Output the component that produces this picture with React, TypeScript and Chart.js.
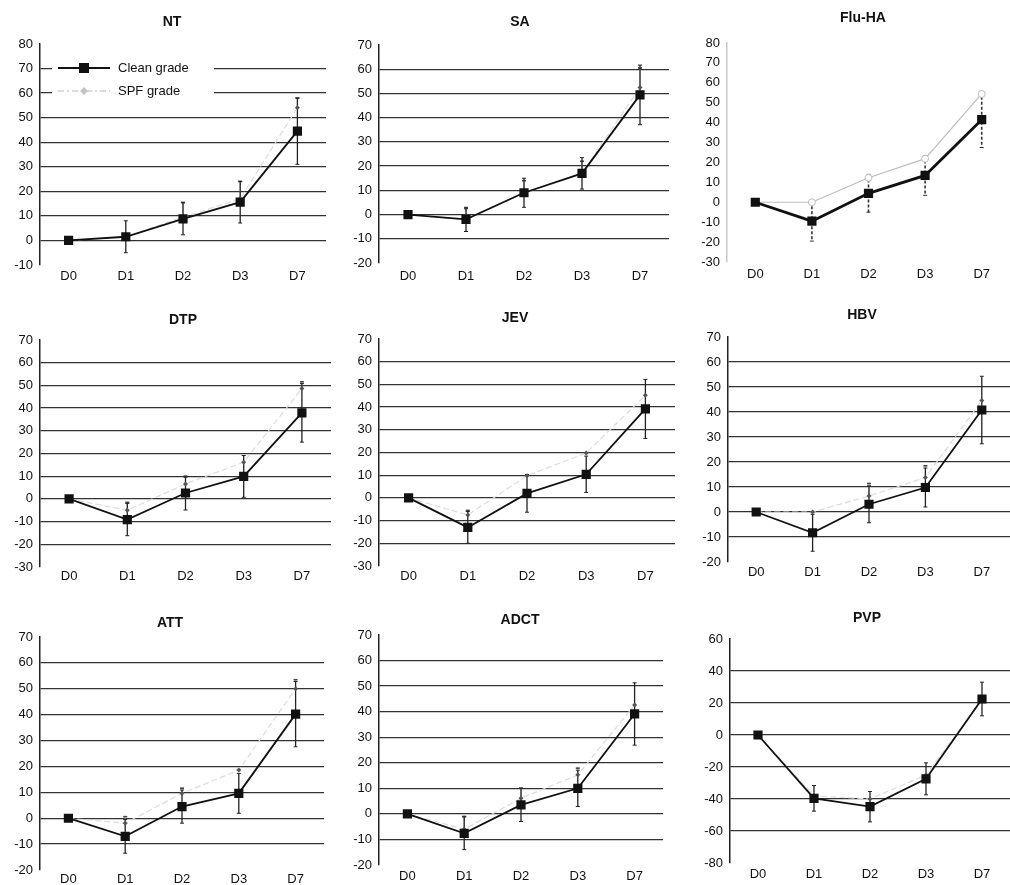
import React, { useEffect, useRef } from 'react';
import { Chart, registerables } from 'chart.js';

Chart.register(...registerables);

// ---------- data ----------
const labels = ['D0', 'D1', 'D2', 'D3', 'D7'];

const ntClean = [0, 1.5, 8.8, 15.6, 44.5];
const ntCleanSd = [0, 6.5, 6.5, 8.5, 13.5];
const ntSpf = [0, 1.5, 9.5, 17, 54];
const ntSpfSd = [0, 0, 6, 7, 4];

const saClean = [0, -2, 9, 17, 49.4];
const saCleanSd = [0, 5, 6, 6.5, 12.3];
const saSpf = [0, -2, 9, 17, 52.5];
const saSpfSd = [0, 4.5, 5, 5, 8];

const fluClean = [0, -9.5, 4.5, 13.5, 41.5];
const fluCleanSd = [0, 10, 9.5, 10, 14];
const fluSpf = [0, 0, 12.3, 21.9, 54.4];
const fluSpfSd = [0, 0, 0, 0, 0];

const dtpClean = [0, -9.1, 2.6, 9.9, 37.9];
const dtpCleanSd = [0, 7.1, 7.5, 9.2, 12.9];
const dtpSpf = [0, -5, 6.6, 16.2, 48.6];
const dtpSpfSd = [0, 3.5, 3, 0, 3];

const jevClean = [0, -13, 2, 10.4, 39.2];
const jevCleanSd = [0, 7, 8.3, 8, 13];
const jevSpf = [0, -7.5, 9.8, 19.8, 45.2];
const jevSpfSd = [0, 2, 0, 0, 0];

const hbvClean = [0, -8.3, 3.1, 9.8, 40.8];
const hbvCleanSd = [0, 7.4, 7.4, 7.8, 13.5];
const hbvSpf = [0, 0, 6.4, 13.8, 44.6];
const hbvSpfSd = [0, 0, 5, 4.7, 0];

const attClean = [0, -7, 4.5, 9.6, 40.2];
const attCleanSd = [0, 6.5, 6.4, 7.7, 12.6];
const attSpf = [0, -1.9, 9.6, 18.6, 50];
const attSpfSd = [0, 2.5, 2, 0, 3.5];

const adctClean = [0, -7.6, 3.5, 10, 39.1];
const adctCleanSd = [0, 6.4, 6.5, 7.1, 12.2];
const adctSpf = [0, -6, 6.1, 15.3, 42.6];
const adctSpfSd = [0, 5, 4, 2.6, 0];

const pvpClean = [0, -39.6, -44.8, -27.4, 22.5];
const pvpCleanSd = [0, 8, 9.5, 10, 10.5];
const pvpSpf = [0, -38, -40, -25, 22];
const pvpSpfSd = [0, 0, 0, 0, 0];

// ---------- panel layout ----------
type Panel = {
  title: string;
  clean: number[];
  cleanSd: number[];
  spf: number[];
  spfSd: number[];
  min: number;
  max: number;
  step: number;
  box: [number, number, number, number];
  plot: [number, number, number, number];
  titleAt: [number, number];
  xPad: number;
  grid: boolean;
  legend: boolean;
  flu: boolean;
};

const panels: Panel[] = [
  { title: 'NT', clean: ntClean, cleanSd: ntCleanSd, spf: ntSpf, spfSd: ntSpfSd, min: -10, max: 80, step: 10,
    box: [0, 0, 340, 295], plot: [40, 326, 44, 265], titleAt: [172, 22], xPad: 5, grid: true, legend: true, flu: false },
  { title: 'SA', clean: saClean, cleanSd: saCleanSd, spf: saSpf, spfSd: saSpfSd, min: -20, max: 70, step: 10,
    box: [340, 0, 340, 295], plot: [379, 669, 45, 263], titleAt: [520, 22], xPad: 7, grid: true, legend: false, flu: false },
  { title: 'Flu-HA', clean: fluClean, cleanSd: fluCleanSd, spf: fluSpf, spfSd: fluSpfSd, min: -30, max: 80, step: 10,
    box: [680, 0, 330, 295], plot: [727, 1010, 43, 262], titleAt: [863, 18], xPad: 6, grid: false, legend: false, flu: true },
  { title: 'DTP', clean: dtpClean, cleanSd: dtpCleanSd, spf: dtpSpf, spfSd: dtpSpfSd, min: -30, max: 70, step: 10,
    box: [0, 295, 340, 295], plot: [40, 331, 340, 567], titleAt: [183, 320], xPad: 3, grid: true, legend: false, flu: false },
  { title: 'JEV', clean: jevClean, cleanSd: jevCleanSd, spf: jevSpf, spfSd: jevSpfSd, min: -30, max: 70, step: 10,
    box: [340, 295, 340, 295], plot: [379, 675, 339, 566], titleAt: [515, 318], xPad: 4, grid: true, legend: false, flu: false },
  { title: 'HBV', clean: hbvClean, cleanSd: hbvCleanSd, spf: hbvSpf, spfSd: hbvSpfSd, min: -20, max: 70, step: 10,
    box: [680, 295, 330, 295], plot: [728, 1010, 337, 562], titleAt: [862, 315], xPad: 4, grid: true, legend: false, flu: false },
  { title: 'ATT', clean: attClean, cleanSd: attCleanSd, spf: attSpf, spfSd: attSpfSd, min: -20, max: 70, step: 10,
    box: [0, 595, 340, 290], plot: [40, 324, 637, 870], titleAt: [170, 623], xPad: 3, grid: true, legend: false, flu: false },
  { title: 'ADCT', clean: adctClean, cleanSd: adctCleanSd, spf: adctSpf, spfSd: adctSpfSd, min: -20, max: 70, step: 10,
    box: [340, 595, 340, 290], plot: [379, 663, 635, 865], titleAt: [520, 620], xPad: 5, grid: true, legend: false, flu: false },
  { title: 'PVP', clean: pvpClean, cleanSd: pvpCleanSd, spf: pvpSpf, spfSd: pvpSpfSd, min: -80, max: 60, step: 20,
    box: [680, 595, 330, 290], plot: [730, 1010, 639, 863], titleAt: [867, 618], xPad: 5, grid: true, legend: false, flu: false },
];

const FONT = '"Liberation Sans", Arial, sans-serif';
const TEXT = '#111111';

// ---------- plugins ----------
const errorBarsPlugin = {
  id: 'errorBars',
  beforeDatasetsDraw(chart: any) {
    const ctx = chart.ctx;
    const ys = chart.scales.y;
    const order = [1, 0];
    order.forEach((i) => {
      const ds: any = chart.data.datasets[i];
      const errs: number[] = ds.errors;
      if (!errs) return;
      const meta = chart.getDatasetMeta(i);
      meta.data.forEach((pt: any, j: number) => {
        const v = ds.data[j];
        const e = errs[j];
        if (!e) return;
        const x = pt.x;
        ctx.save();
        if (ds.errStyle === 'spf') {
          const y0 = ys.getPixelForValue(v);
          const y1 = ys.getPixelForValue(v + e);
          ctx.strokeStyle = '#b4b4b4';
          ctx.lineWidth = 1;
          ctx.beginPath();
          ctx.moveTo(x, y0);
          ctx.lineTo(x, y1);
          ctx.stroke();
          ctx.strokeStyle = '#444';
          ctx.lineWidth = 1.6;
          ctx.beginPath();
          ctx.moveTo(x - 2, y1);
          ctx.lineTo(x + 2, y1);
          ctx.stroke();
        } else {
          const yTop = ys.getPixelForValue(v + e);
          const yBot = ys.getPixelForValue(v - e);
          ctx.strokeStyle = ds.errStyle === 'dashed' ? '#333' : '#222';
          ctx.lineWidth = ds.errStyle === 'dashed' ? 1.6 : 1.3;
          if (ds.errStyle === 'dashed') ctx.setLineDash([3, 2]);
          ctx.beginPath();
          ctx.moveTo(x, yTop);
          ctx.lineTo(x, yBot);
          ctx.stroke();
          ctx.setLineDash([]);
          ctx.lineWidth = 1;
          ctx.beginPath();
          ctx.moveTo(x - 2, yTop);
          ctx.lineTo(x + 2, yTop);
          ctx.moveTo(x - 2, yBot);
          ctx.lineTo(x + 2, yBot);
          ctx.stroke();
        }
        ctx.restore();
      });
    });
  },
};

function makeTitlePlugin(p: Panel) {
  return {
    id: 'panelTitle',
    afterDraw(chart: any) {
      const ctx = chart.ctx;
      ctx.save();
      ctx.font = `bold 14px ${FONT}`;
      ctx.fillStyle = TEXT;
      ctx.textAlign = 'center';
      ctx.textBaseline = 'middle';
      ctx.fillText(p.title, p.titleAt[0] - p.box[0], p.titleAt[1] - p.box[1]);
      ctx.restore();
    },
  };
}

function makeLegendPlugin(p: Panel) {
  return {
    id: 'insideLegend',
    afterDatasetsDraw(chart: any) {
      if (!p.legend) return;
      const ctx = chart.ctx;
      const ox = p.box[0];
      const oy = p.box[1];
      const ds0: any = chart.data.datasets[0];
      const ds1: any = chart.data.datasets[1];
      ctx.save();
      ctx.fillStyle = '#ffffff';
      ctx.fillRect(52 - ox, 58 - oy, 162, 42);
      const y1 = 68 - oy;
      const y2 = 91 - oy;
      // clean grade
      ctx.strokeStyle = ds0.borderColor;
      ctx.lineWidth = 2;
      ctx.beginPath();
      ctx.moveTo(58 - ox, y1);
      ctx.lineTo(110 - ox, y1);
      ctx.stroke();
      ctx.fillStyle = ds0.backgroundColor;
      ctx.fillRect(84 - 5 - ox, y1 - 5, 10, 10);
      // spf grade
      ctx.strokeStyle = '#cfcfcf';
      ctx.lineWidth = 1.3;
      ctx.setLineDash([6, 3, 2, 3]);
      ctx.beginPath();
      ctx.moveTo(58 - ox, y2);
      ctx.lineTo(110 - ox, y2);
      ctx.stroke();
      ctx.setLineDash([]);
      ctx.fillStyle = '#c4c4c4';
      ctx.beginPath();
      ctx.moveTo(84 - ox, y2 - 4);
      ctx.lineTo(88 - ox, y2);
      ctx.lineTo(84 - ox, y2 + 4);
      ctx.lineTo(80 - ox, y2);
      ctx.closePath();
      ctx.fill();
      ctx.fillStyle = TEXT;
      ctx.font = `13px ${FONT}`;
      ctx.textAlign = 'left';
      ctx.textBaseline = 'middle';
      ctx.fillText(ds0.label, 118 - ox, y1);
      ctx.fillText(ds1.label, 118 - ox, y2);
      ctx.restore();
    },
  };
}

// ---------- chart panel ----------
function PanelChart({ p }: { p: Panel }) {
  const ref = useRef<HTMLCanvasElement | null>(null);
  useEffect(() => {
    if (!ref.current) return;
    const [cl, ct, cw, ch] = p.box;
    const [L, R, T, B] = p.plot;
    const tickFont = { family: FONT, size: 13 };
    const chart = new Chart(ref.current, {
      type: 'line',
      data: {
        labels,
        datasets: [
          {
            label: 'Clean grade',
            data: p.clean,
            borderColor: '#111111',
            backgroundColor: '#111111',
            borderWidth: p.flu ? 2.8 : 1.8,
            pointStyle: 'rect',
            pointRadius: 6.5,
            pointBorderWidth: 0,
            pointBackgroundColor: '#111111',
            tension: 0,
            errors: p.cleanSd,
            errStyle: p.flu ? 'dashed' : 'clean',
          } as any,
          {
            label: 'SPF grade',
            data: p.spf,
            borderColor: p.flu ? '#bdbdbd' : '#dcdcdc',
            backgroundColor: p.flu ? '#ffffff' : '#555555',
            borderWidth: 1.2,
            borderDash: p.flu ? [] : [6, 3],
            pointStyle: p.flu ? 'circle' : 'rectRot',
            pointRadius: p.flu ? 3.5 : 2.5,
            pointBorderWidth: p.flu ? 1 : 0,
            pointBorderColor: p.flu ? '#bdbdbd' : '#555555',
            pointBackgroundColor: p.flu ? '#ffffff' : '#555555',
            tension: 0,
            errors: p.spfSd,
            errStyle: 'spf',
          } as any,
        ],
      },
      options: {
        animation: false,
        responsive: false,
        maintainAspectRatio: false,
        events: [],
        layout: {
          autoPadding: false,
          padding: { left: 0, right: cl + cw - R, top: T - ct, bottom: 0 },
        },
        plugins: {
          legend: { display: false },
          tooltip: { enabled: false },
          title: { display: false },
        },
        scales: {
          x: {
            type: 'category',
            offset: true,
            grid: { display: false, drawTicks: false },
            border: { display: false },
            ticks: { padding: p.xPad - 1, font: tickFont, color: TEXT, maxRotation: 0 },
            afterFit: (s: any) => {
              s.height = ct + ch - B;
            },
          },
          y: {
            type: 'linear',
            min: p.min,
            max: p.max,
            ticks: { stepSize: p.step, padding: 7, font: tickFont, color: TEXT },
            grid: {
              drawTicks: false,
              lineWidth: 1.3,
              color: (c: any) =>
                !p.grid || c.tick.value === p.min || c.tick.value === p.max ? 'rgba(0,0,0,0)' : '#333333',
            },
            border: { display: true, color: p.grid ? '#222222' : '#c8c8c8', width: 1.5 },
            afterFit: (s: any) => {
              s.width = L - cl;
            },
          },
        },
      } as any,
      plugins: [errorBarsPlugin, makeTitlePlugin(p), makeLegendPlugin(p)],
    });
    return () => chart.destroy();
  }, [p]);

  const [cl, ct, cw, ch] = p.box;
  return (
    <canvas
      ref={ref}
      width={cw}
      height={ch}
      style={{ position: 'absolute', left: cl, top: ct, width: cw, height: ch }}
    />
  );
}

export default function App() {
  return (
    <div style={{ position: 'absolute', left: 0, top: 0, width: 1010, height: 885, background: '#ffffff', overflow: 'hidden' }}>
      {panels.map((p) => (
        <PanelChart key={p.title} p={p} />
      ))}
    </div>
  );
}
